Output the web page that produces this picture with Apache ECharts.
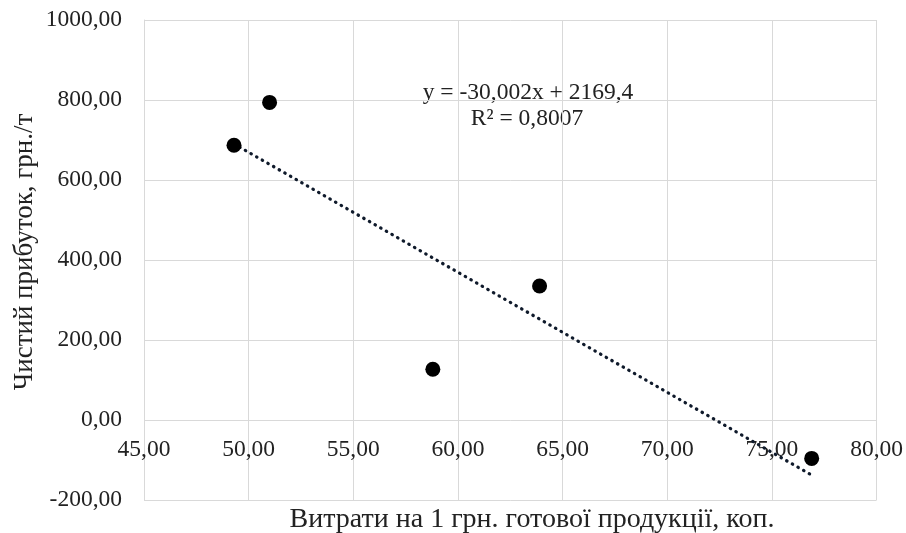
<!DOCTYPE html>
<html>
<head>
<meta charset="utf-8">
<script src="https://cdn.jsdelivr.net/npm/echarts@6/dist/echarts.min.js"></script>
<style>
  html, body { margin: 0; padding: 0; background: #fff; }
  #chart { width: 906px; height: 533px; }
</style>
</head>
<body>
<div id="chart"></div>
<script>
// values
var costX = [51.0, 49.3, 58.8, 63.9, 76.9];
var profitY = [794, 687, 127, 335, -96];
// trendline end points (linear fit shown on the chart)
var trendX = [49.3, 76.9];
var trendY = [690.3, -137.8];
var xTicks = { min: 45, max: 80, step: 5 };
var yTicks = { min: -200, max: 1000, step: 200 };
var eqText = 'y = -30,002x + 2169,4';
var r2Text = 'R² = 0,8007';

(function () {
    var chart = echarts.init(document.getElementById('chart'));
    var font = "'Liberation Serif', 'Times New Roman', serif";
    var fmt = function (v) { return v.toFixed(2).replace('.', ','); };

    var points = costX.map(function (x, i) { return [x, profitY[i]]; });
    var trend = trendX.map(function (x, i) { return [x, trendY[i]]; });

    var option = {
        backgroundColor: '#fff',
        animation: false,
        grid: {
            left: 144,
            right: 29,
            top: 20,
            bottom: 33
        },
        xAxis: {
            type: 'value',
            min: xTicks.min,
            max: xTicks.max,
            interval: xTicks.step,
            // labels sit under the zero line, as in the original
            offset: -80,
            axisLine: { show: false, onZero: false },
            axisTick: { show: false },
            axisLabel: {
                margin: 18,
                color: '#222',
                fontSize: 23.5,
                fontFamily: font,
                formatter: fmt
            },
            splitLine: { show: true, lineStyle: { color: '#d9d9d9' } }
        },
        yAxis: {
            type: 'value',
            min: yTicks.min,
            max: yTicks.max,
            interval: yTicks.step,
            axisLine: { show: true, lineStyle: { color: '#d9d9d9' } },
            axisTick: { show: false },
            axisLabel: {
                margin: 22,
                color: '#222',
                fontSize: 23.5,
                fontFamily: font,
                padding: [8, 0, 0, 0],
                formatter: fmt
            },
            splitLine: { show: true, lineStyle: { color: '#d9d9d9' } }
        },
        graphic: [
            {
                type: 'text',
                x: 532,
                y: 520,
                style: {
                    text: 'Витрати на 1 грн. готової продукції, коп.',
                    font: '28px ' + font,
                    fill: '#222',
                    align: 'center',
                    verticalAlign: 'middle'
                }
            },
            {
                type: 'text',
                x: 25,
                y: 252,
                rotation: Math.PI / 2,
                style: {
                    text: 'Чистий прибуток, грн./т',
                    font: '27px ' + font,
                    fill: '#222',
                    align: 'center',
                    verticalAlign: 'middle'
                }
            },
            {
                type: 'text',
                x: 528,
                y: 93,
                style: {
                    text: eqText,
                    font: '23.5px ' + font,
                    fill: '#222',
                    align: 'center',
                    verticalAlign: 'middle'
                }
            },
            {
                type: 'text',
                x: 527,
                y: 119,
                style: {
                    text: r2Text,
                    font: '23.5px ' + font,
                    fill: '#222',
                    align: 'center',
                    verticalAlign: 'middle'
                }
            }
        ],
        series: [
            {
                type: 'line',
                data: trend,
                symbol: 'none',
                z: 3,
                lineStyle: {
                    color: '#0f1a2b',
                    width: 3.2,
                    type: [0.5, 6],
                    cap: 'round'
                }
            },
            {
                type: 'scatter',
                data: points,
                symbol: 'circle',
                symbolSize: 15,
                z: 4,
                itemStyle: { color: '#000', opacity: 1 }
            }
        ]
    };

    chart.setOption(option);
})();
</script>
</body>
</html>
